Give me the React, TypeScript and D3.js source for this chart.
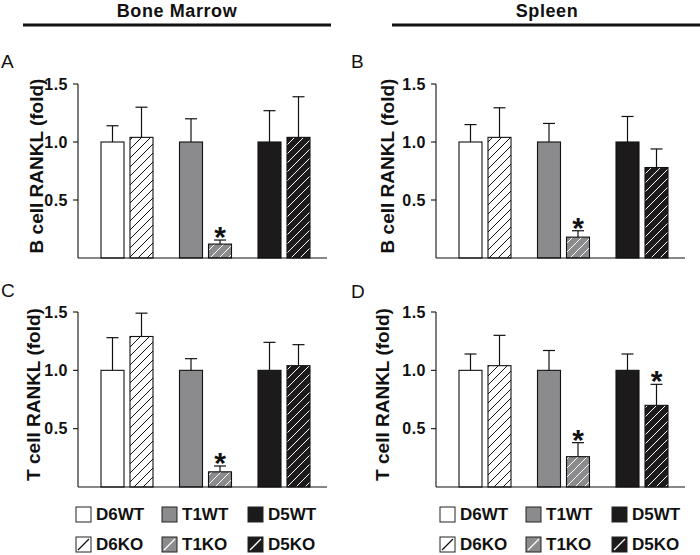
import React from "react";
import * as d3 from "d3";

const groups = ["D6", "T1", "D5"];
const seriesNames = ["D6WT", "D6KO", "T1WT", "T1KO", "D5WT", "D5KO"];
const yTicks = [0.5, 1.0, 1.5];

const meanA = [1.0, 1.04, 1.0, 0.12, 1.0, 1.04];
const errA = [0.14, 0.26, 0.2, 0.035, 0.27, 0.35];
const starsA = [3];

const meanB = [1.0, 1.04, 1.0, 0.18, 1.0, 0.78];
const errB = [0.15, 0.255, 0.16, 0.055, 0.22, 0.16];
const starsB = [3];

const meanC = [1.0, 1.29, 1.0, 0.13, 1.0, 1.04];
const errC = [0.28, 0.2, 0.1, 0.05, 0.24, 0.18];
const starsC = [3];

const meanD = [1.0, 1.04, 1.0, 0.26, 1.0, 0.7];
const errD = [0.14, 0.26, 0.17, 0.12, 0.14, 0.18];
const starsD = [3, 5];

const FONT = "'Liberation Sans', Arial, Helvetica, sans-serif";
const GRAY = "#8b8b8d";
const BLACK = "#1c1a1b";

const fills: Record<string, string> = {
  D6WT: "#ffffff",
  D6KO: "url(#hatchWhite)",
  T1WT: GRAY,
  T1KO: "url(#hatchGray)",
  D5WT: BLACK,
  D5KO: "url(#hatchBlack)",
};

const panels = [
  { id: "A", mean: meanA, err: errA, stars: starsA, x0: 78, x1: 327, yTop: 84, yBot: 258, lx: 1, ly: 68, ylx: 43, ylab: "B cell RANKL (fold)" },
  { id: "B", mean: meanB, err: errB, stars: starsB, x0: 436, x1: 685, yTop: 84, yBot: 258, lx: 351, ly: 68, ylx: 394, ylab: "B cell RANKL (fold)" },
  { id: "C", mean: meanC, err: errC, stars: starsC, x0: 78, x1: 327, yTop: 312, yBot: 487, lx: 1, ly: 297, ylx: 40, ylab: "T cell RANKL (fold)" },
  { id: "D", mean: meanD, err: errD, stars: starsD, x0: 436, x1: 685, yTop: 312, yBot: 487, lx: 351, ly: 298, ylx: 389, ylab: "T cell RANKL (fold)" },
];

const legends = [
  { xs: [76, 162, 248] },
  { xs: [440, 526, 612] },
];

function Panel({ p }: { p: (typeof panels)[number] }) {
  const y = d3.scaleLinear().domain([0, 1.5]).range([p.yBot, p.yTop]);
  const gx = d3.scalePoint<string>().domain(groups).range([p.x0 + 49, p.x0 + 206]);
  const sub = d3.scaleBand<string>().domain(["WT", "KO"]).range([-26, 26]).paddingInner(6 / 29);
  const bw = sub.bandwidth();
  return (
    <g>
      <text x={p.lx} y={p.ly} fontSize={19} fontFamily={FONT} fill="#111">{p.id}</text>
      <text
        transform={`translate(${p.ylx},${(p.yTop + p.yBot) / 2 - 5}) rotate(-90)`}
        textAnchor="middle"
        fontSize={19}
        fontWeight="bold"
        fontFamily={FONT}
        fill="#111"
      >
        {p.ylab}
      </text>
      {seriesNames.map((s, i) => {
        const g = groups[Math.floor(i / 2)];
        const k = i % 2 === 0 ? "WT" : "KO";
        const bx = (gx(g) as number) + (sub(k) as number);
        const top = y(p.mean[i]);
        const et = y(p.mean[i] + p.err[i]);
        const cx = bx + bw / 2;
        return (
          <g key={s}>
            <line x1={cx} x2={cx} y1={top} y2={et} stroke="#111" strokeWidth={1.2} />
            <line x1={cx - 6} x2={cx + 6} y1={et} y2={et} stroke="#111" strokeWidth={1.2} />
            <rect x={bx} y={top} width={bw} height={p.yBot - top} fill={fills[s]} stroke="#111" strokeWidth={1.1} />
            {p.stars.includes(i) && (
              <text x={cx} y={et + 7} textAnchor="middle" fontSize={30} fontWeight="bold" fontFamily={FONT} fill="#111">
                *
              </text>
            )}
          </g>
        );
      })}
      <line x1={p.x0} x2={p.x0} y1={p.yTop} y2={p.yBot} stroke="#111" strokeWidth={1.1} />
      <line x1={p.x0} x2={p.x1} y1={p.yBot} y2={p.yBot} stroke="#111" strokeWidth={1.1} />
      {yTicks.map((t) => (
        <g key={t}>
          <line x1={p.x0 - 5} x2={p.x0} y1={y(t)} y2={y(t)} stroke="#111" strokeWidth={1.1} />
          <text x={p.x0 - 10} y={y(t)} dy="0.36em" textAnchor="end" fontSize={16} fontWeight="bold" fontFamily={FONT} fill="#111" letterSpacing={0.5}>
            {d3.format(".1f")(t)}
          </text>
        </g>
      ))}
    </g>
  );
}

function Legend({ xs }: { xs: number[] }) {
  const rows = [0, 1];
  const rowY = [507, 537];
  return (
    <g>
      {rows.map((r) =>
        groups.map((g, gi) => {
          const name = seriesNames[gi * 2 + r];
          const x = xs[gi];
          const yy = rowY[r];
          const lineColor = name === "D6KO" ? "#111" : "#fff";
          return (
            <g key={name}>
              <rect x={x} y={yy} width={15} height={15} fill={r === 0 ? fills[name] : fills[name.replace("KO", "WT")]} stroke="#222" strokeWidth={1} />
              {r === 1 && (
                <line x1={x + 2} y1={yy + 13} x2={x + 13} y2={yy + 2} stroke={lineColor} strokeWidth={1.3} />
              )}
              <text x={x + 20} y={yy + 13} fontSize={17} fontWeight="bold" fontFamily={FONT} fill="#111">
                {name}
              </text>
            </g>
          );
        })
      )}
    </g>
  );
}

export default function App() {
  return (
    <svg width={700} height={555} style={{ position: "absolute", left: 0, top: 0, background: "#fff" }}>
      <defs>
        <pattern id="hatchWhite" patternUnits="userSpaceOnUse" width={9} height={9}>
          <rect width={9} height={9} fill="#fff" />
          <path d="M-2,2 l4,-4 M0,9 l9,-9 M7,11 l4,-4" stroke="#111" strokeWidth={1} />
        </pattern>
        <pattern id="hatchGray" patternUnits="userSpaceOnUse" width={9} height={9}>
          <rect width={9} height={9} fill={GRAY} />
          <path d="M-2,2 l4,-4 M0,9 l9,-9 M7,11 l4,-4" stroke="#fff" strokeWidth={1} />
        </pattern>
        <pattern id="hatchBlack" patternUnits="userSpaceOnUse" width={9} height={9}>
          <rect width={9} height={9} fill={BLACK} />
          <path d="M-2,2 l4,-4 M0,9 l9,-9 M7,11 l4,-4" stroke="#fff" strokeWidth={1} />
        </pattern>
      </defs>
      <text x={177} y={17} textAnchor="middle" fontSize={18} fontWeight="bold" fontFamily={FONT} fill="#111" letterSpacing={0.6}>
        Bone Marrow
      </text>
      <line x1={23} x2={331} y1={25} y2={25} stroke="#111" strokeWidth={2.8} />
      <text x={547} y={17} textAnchor="middle" fontSize={18} fontWeight="bold" fontFamily={FONT} fill="#111" letterSpacing={0.6}>
        Spleen
      </text>
      <line x1={392} x2={700} y1={25} y2={25} stroke="#111" strokeWidth={2.8} />
      {panels.map((p) => (
        <Panel key={p.id} p={p} />
      ))}
      {legends.map((l, i) => (
        <Legend key={i} xs={l.xs} />
      ))}
    </svg>
  );
}
